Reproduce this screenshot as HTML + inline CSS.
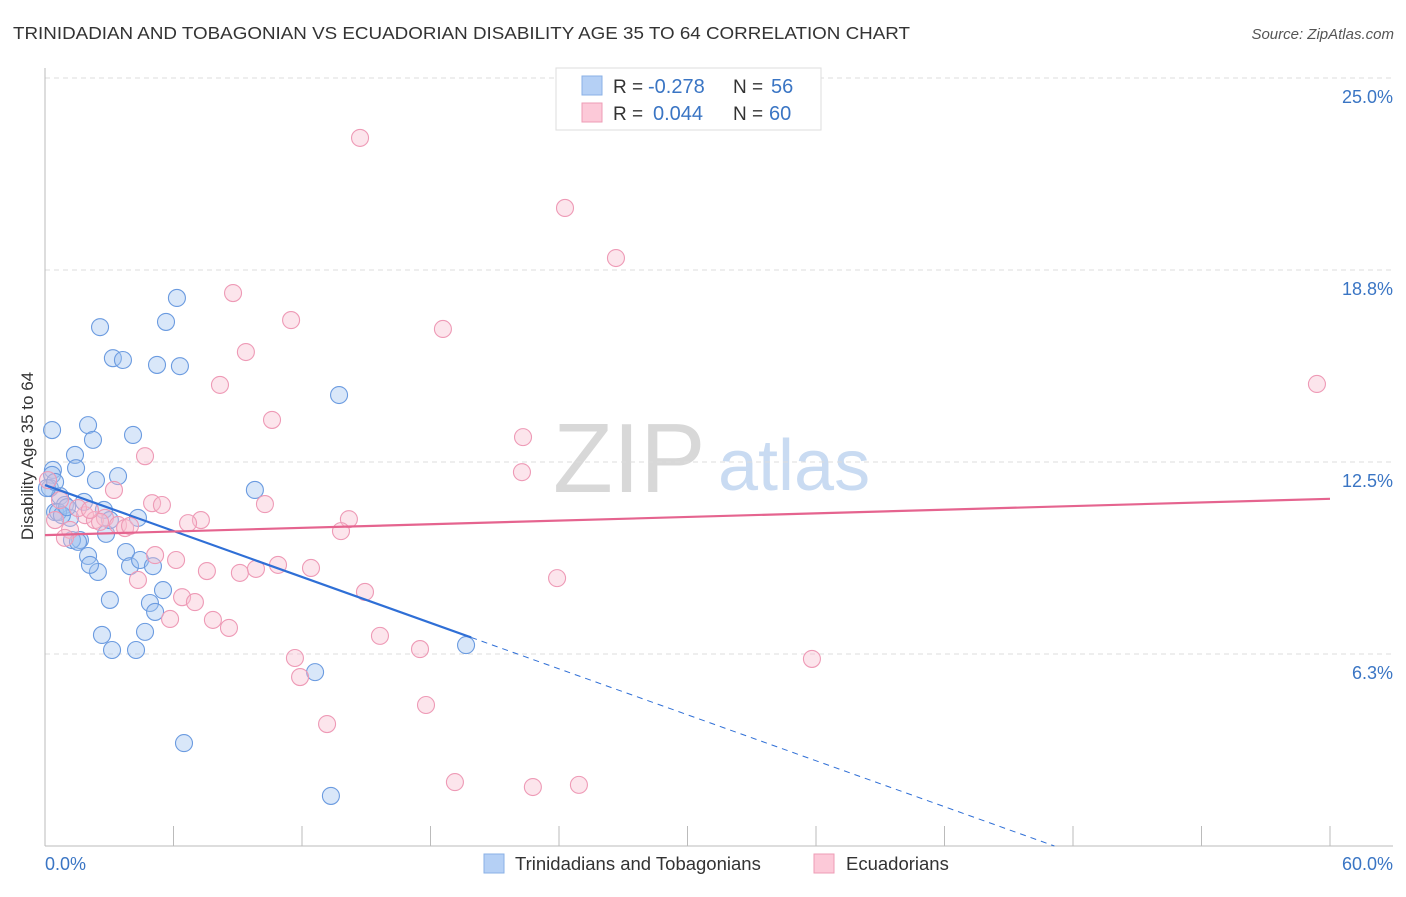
<!DOCTYPE html>
<html><head><meta charset="utf-8"><style>
body{margin:0;background:#fff;font-family:"Liberation Sans",sans-serif;}
svg text{font-family:"Liberation Sans",sans-serif;}
</style></head><body>
<svg id="chart" width="1406" height="892" xmlns="http://www.w3.org/2000/svg">
<text x="13" y="39" font-size="17.5" fill="#333" textLength="897" lengthAdjust="spacingAndGlyphs">TRINIDADIAN AND TOBAGONIAN VS ECUADORIAN DISABILITY AGE 35 TO 64 CORRELATION CHART</text>
<text x="1394" y="39" font-size="15" fill="#555" text-anchor="end" font-style="italic">Source: ZipAtlas.com</text>
<text x="553" y="492" font-size="98" fill="#d8d8d8" font-family="Liberation Serif">ZIP</text>
<text x="718" y="490" font-size="72" fill="#c9dbf2">atlas</text>
<g id="grid"></g>
<g id="axes"></g>
<g id="pts"></g>
<g id="trend"></g>
<text transform="translate(33,456) rotate(-90)" font-size="17" fill="#333" text-anchor="middle">Disability Age 35 to 64</text>
<text x="45" y="870" font-size="18" fill="#3a75c4">0.0%</text>
<text x="1393" y="870" font-size="18" fill="#3a75c4" text-anchor="end">60.0%</text>
<g>
<rect x="556" y="68" width="265" height="62" fill="#fff" stroke="#ddd"/>
<rect x="582" y="76" width="20" height="19" fill="#b5d0f5" stroke="#8ab0e6"/>
<rect x="582" y="103" width="20" height="19" fill="#fcc9d8" stroke="#ee9cb6"/>
<text x="613" y="93" font-size="19" fill="#333">R =</text>
<text x="648" y="93" font-size="20" fill="#3a75c4">-0.278</text>
<text x="733" y="93" font-size="19" fill="#333">N =</text>
<text x="771" y="93" font-size="20" fill="#3a75c4">56</text>
<text x="613" y="120" font-size="19" fill="#333">R =</text>
<text x="653" y="120" font-size="20" fill="#3a75c4">0.044</text>
<text x="733" y="120" font-size="19" fill="#333">N =</text>
<text x="769" y="120" font-size="20" fill="#3a75c4">60</text>
</g>
<g>
<rect x="484" y="854" width="20" height="19" fill="#b5d0f5" stroke="#8ab0e6"/>
<text x="515" y="870" font-size="18.5" fill="#333">Trinidadians and Tobagonians</text>
<rect x="814" y="854" width="20" height="19" fill="#fcc9d8" stroke="#ee9cb6"/>
<text x="846" y="870" font-size="18.5" fill="#333">Ecuadorians</text>
</g>
</svg>
<script>
const yTicks=[25,18.75,12.5,6.25];
const yTickLabels=["25.0%","18.8%","12.5%","6.3%"];
const xTicks=[0,6,12,18,24,30,36,42,48,54,60];
const blueX=[0.33,0.37,0.33,0.23,0.47,0.70,0.93,1.17,1.40,1.45,1.63,1.82,2.01,2.01,2.24,2.38,2.47,2.57,2.66,2.75,2.85,3.03,3.13,3.17,3.41,3.64,3.78,3.97,4.11,4.25,4.34,4.44,4.67,4.90,5.04,5.14,5.23,5.51,5.65,6.16,6.30,6.49,9.80,12.61,13.35,13.73,19.66,0.09,0.61,0.79,1.26,1.54,2.10,1.03,0.47,3.03];
const blueY=[13.54,12.24,12.08,11.65,10.87,11.39,11.10,10.68,12.73,12.30,9.96,11.20,9.44,13.70,13.22,11.91,8.92,16.89,6.87,10.94,10.16,8.01,6.38,15.88,12.04,15.82,9.57,9.11,13.38,6.38,10.68,9.31,6.97,7.91,9.11,7.62,15.66,8.33,17.06,17.84,15.62,3.35,11.59,5.66,1.63,14.68,6.54,11.65,10.87,10.77,9.96,9.90,9.15,11.03,11.85,10.61];
const pinkX=[14.71,24.28,26.66,8.78,11.49,18.58,9.38,8.17,10.60,22.32,4.67,22.27,3.22,5.00,5.46,10.27,7.28,6.68,14.19,13.82,5.14,6.12,7.56,9.10,9.85,10.88,12.42,4.34,23.91,14.94,6.40,7.00,5.84,7.84,8.59,15.64,17.51,11.67,11.91,13.17,17.79,19.14,22.78,24.93,35.81,59.39,0.70,0.47,1.17,1.87,2.33,2.80,3.41,3.74,0.14,0.93,2.57,3.97,1.54,2.10];
const pinkY=[23.05,20.77,19.14,18.00,17.12,16.83,16.08,15.01,13.87,13.31,12.69,12.17,11.59,11.16,11.10,11.13,10.61,10.51,10.64,10.25,9.47,9.31,8.95,8.89,9.02,9.15,9.05,8.66,8.72,8.27,8.10,7.94,7.39,7.36,7.10,6.84,6.41,6.12,5.50,3.97,4.59,2.08,1.92,1.99,6.09,15.04,11.26,10.61,10.29,10.77,10.61,10.68,10.45,10.35,11.91,10.03,10.55,10.42,11.00,10.94];
const blueTrend=[11.75,-0.2493,19.9];
const pinkTrend=[10.12,0.0197];
const NS="http://www.w3.org/2000/svg";
const sx=v=>45+v/60*1285;
const sy=v=>846-v*30.72;
function mk(t,a,p){const e=document.createElementNS(NS,t);for(const k in a)e.setAttribute(k,a[k]);document.getElementById(p).appendChild(e);return e;}
yTicks.forEach((t,i)=>{
 const l=mk('line',{x1:45,x2:1393,y1:sy(t),y2:sy(t),stroke:'#ddd','stroke-dasharray':'5,4'},'grid');
 
 
 const tx=mk('text',{x:1393,y:sy(t)+25,'font-size':18,fill:'#3a75c4','text-anchor':'end'},'grid');
 tx.textContent=yTickLabels[i];
 
 
});
const ya=mk('line',{x1:45,x2:45,y1:68,y2:846,stroke:'#bbb'},'axes');


const xa=mk('line',{x1:45,x2:1393,y1:846,y2:846,stroke:'#bbb'},'axes');


xTicks.forEach(t=>{
 const l=mk('line',{x1:sx(t),x2:sx(t),y1:826,y2:846,stroke:'#bbb'},'axes');
 
 
});
blueX.forEach((x,i)=>{
 const c=mk('circle',{cx:sx(x),cy:sy(blueY[i]),r:8.5,fill:'rgba(160,196,240,0.4)',stroke:'#6b9be0','stroke-width':1.1},'pts');
 
 
});
pinkX.forEach((x,i)=>{
 const c=mk('circle',{cx:sx(x),cy:sy(pinkY[i]),r:8.5,fill:'rgba(248,190,208,0.4)',stroke:'#ee9ab6','stroke-width':1.1},'pts');
 
 
});
const bz=-blueTrend[0]/blueTrend[1];
const b1=mk('line',{x1:sx(0),y1:sy(blueTrend[0]),x2:sx(blueTrend[2]),y2:sy(blueTrend[0]+blueTrend[1]*blueTrend[2]),stroke:'#2f6fd6','stroke-width':2.2},'trend');


const b2=mk('line',{x1:sx(blueTrend[2]),y1:sy(blueTrend[0]+blueTrend[1]*blueTrend[2]),x2:sx(bz),y2:sy(0),stroke:'#2f6fd6','stroke-width':1,'stroke-dasharray':'6,5'},'trend');


const p1=mk('line',{x1:sx(0),y1:sy(pinkTrend[0]),x2:sx(60),y2:sy(pinkTrend[0]+pinkTrend[1]*60),stroke:'#e5648f','stroke-width':2.2},'trend');


</script>
</body></html>
